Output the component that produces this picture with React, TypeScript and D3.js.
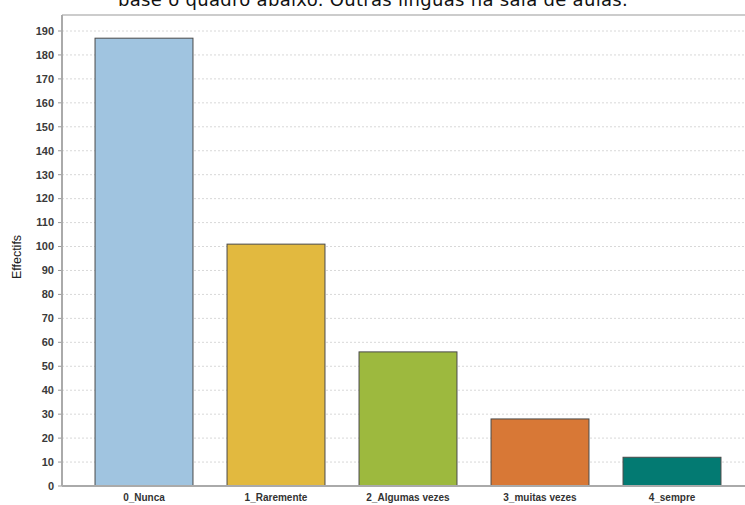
import React from "react";
import * as d3 from "d3";

const categories = ["0_Nunca", "1_Raremente", "2_Algumas vezes", "3_muitas vezes", "4_sempre"];
const values = [187, 101, 56, 28, 12];
const colors = ["#a0c4e0", "#e2b93f", "#9db93e", "#d87836", "#037a72"];
const yTicks = d3.range(0, 191, 10);
const title = "base o quadro abaixo. Outras línguas na sala de aulas.";
const yLabel = "Effectifs";

const W = 745;
const H = 505;
const left = 62;
const top = 15;
const bottom = 486;
const right = 770;

export default function App() {
  const x = d3.scaleBand<string>().domain(categories).range([78, 738]).paddingInner(0.258).paddingOuter(0.129);
  const y = d3.scaleLinear().domain([0, 190]).range([bottom, 31]);
  const font = "'Liberation Sans', Arial, sans-serif";
  return (
    <div style={{ position: "fixed", left: 0, top: 0, width: W, height: H, background: "#fff" }}>
      <svg width={W} height={H} style={{ display: "block" }}>
        <rect x={0} y={0} width={W} height={H} fill="#fff" />
        <text x={373} y={6} textAnchor="middle" fontFamily="Tahoma, 'DejaVu Sans', sans-serif" fontSize={18} letterSpacing={0.3} fill="#111">
          {title}
        </text>
        {yTicks.map((t) => (
          <g key={t}>
            {t > 0 && (
              <line x1={left} x2={right} y1={y(t)} y2={y(t)} stroke="#d8d8d8" strokeDasharray="2,2" strokeWidth={1} />
            )}
            <line x1={left - 4} x2={left} y1={y(t)} y2={y(t)} stroke="#999" />
            <text x={54} y={y(t)} dy="0.35em" textAnchor="end" fontFamily={font} fontSize={11} fontWeight="bold" fill="#3a3a3a">
              {t}
            </text>
          </g>
        ))}
        <line x1={left} x2={right} y1={top} y2={top} stroke="#bbb" strokeWidth={1.5} />
        {categories.map((c, i) => (
          <rect
            key={c}
            x={x(c)}
            y={y(values[i])}
            width={x.bandwidth()}
            height={bottom - y(values[i])}
            fill={colors[i]}
            stroke="#4a4a4a"
            strokeWidth={1}
          />
        ))}
        <line x1={left} x2={left} y1={top} y2={bottom} stroke="#aaa" strokeWidth={2} />
        <line x1={left} x2={right} y1={bottom} y2={bottom} stroke="#aaa" strokeWidth={2} />
        {categories.map((c) => (
          <text key={c} x={(x(c) as number) + x.bandwidth() / 2} y={501} textAnchor="middle" fontFamily={font} fontSize={10} fontWeight="bold" fill="#333">
            {c}
          </text>
        ))}
        <text transform={`translate(21,257) rotate(-90)`} textAnchor="middle" fontFamily={font} fontSize={12.5} fill="#222">
          {yLabel}
        </text>
      </svg>
    </div>
  );
}
